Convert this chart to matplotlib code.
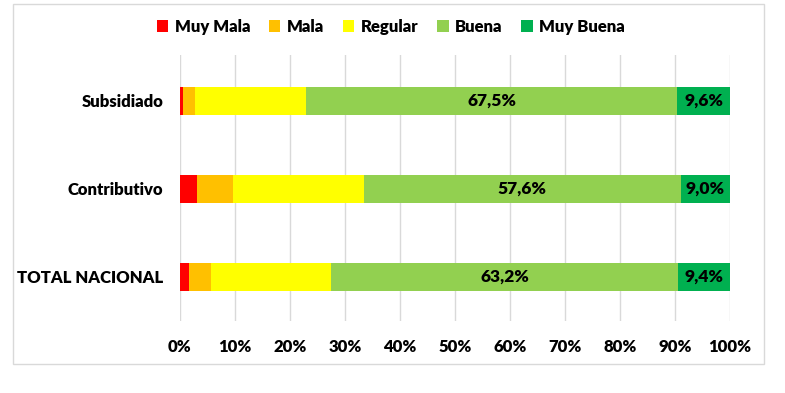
import matplotlib.pyplot as plt
import numpy as np
from matplotlib.patches import Rectangle

plt.rcParams['font.family'] = ['Lato', 'DejaVu Sans']
plt.rcParams['font.weight'] = 'bold'

categories = ["TOTAL NACIONAL", "Contributivo", "Subsidiado"]
series_names = ["Muy Mala", "Mala", "Regular", "Buena", "Muy Buena"]
muy_mala = [1.6, 3.0, 0.5]
mala = [4.0, 6.6, 2.3]
regular = [21.8, 23.8, 20.1]
buena = [63.2, 57.6, 67.5]
muy_buena = [9.4, 9.0, 9.6]
colors = ["#FF0000", "#FFC000", "#FFFF00", "#92D050", "#00B050"]
ticks = [0, 10, 20, 30, 40, 50, 60, 70, 80, 90, 100]

W, H = 785, 393
fig = plt.figure(figsize=(W / 100, H / 100), dpi=100)
ax = fig.add_axes([180 / W, 1 - 321 / H, 550 / W, 266 / H])

# outer chart frame
fig.patches.append(Rectangle((13 / W, 1 - 364 / H), 751 / W, 360 / H,
                             transform=fig.transFigure, fill=False,
                             edgecolor="#D9D9D9", linewidth=1))

ypos = np.arange(len(categories))
left = np.zeros(len(categories))
data = [muy_mala, mala, regular, buena, muy_buena]
for name, vals, col in zip(series_names, data, colors):
    vals = np.array(vals)
    ax.barh(ypos, vals, left=left, height=0.32, color=col, label=name, zorder=3)
    if name in ("Buena", "Muy Buena"):
        for y, l, v in zip(ypos, left, vals):
            ax.text(l + v / 2, y, f"{v:.1f}%".replace(".", ","),
                    ha="center", va="center", fontsize=12.5, fontweight="heavy",
                    color="black", zorder=4)
    left = left + vals

ax.set_xlim(0, 100)
ax.set_ylim(-0.5, 2.52)
ax.set_xticks(ticks)
ax.set_xticklabels([f"{t}%" for t in ticks], fontsize=12, fontweight="heavy")
ax.set_yticks(ypos)
ax.set_yticklabels(categories, fontsize=12, fontweight="heavy")
ax.tick_params(axis="both", length=0)
ax.tick_params(axis="x", pad=13)
ax.tick_params(axis="y", pad=12)
ax.grid(axis="x", color="#D9D9D9", linewidth=1, zorder=0)
for s in ax.spines.values():
    s.set_visible(False)

fig.legend(loc="center", bbox_to_anchor=(0.498, 1 - 27 / H), ncol=5,
           frameon=False, handlelength=0.7, handleheight=0.7,
           handletextpad=0.4, columnspacing=1.1,
           prop={"weight": "heavy", "size": 12})

fig.savefig("out.png", dpi=100)
